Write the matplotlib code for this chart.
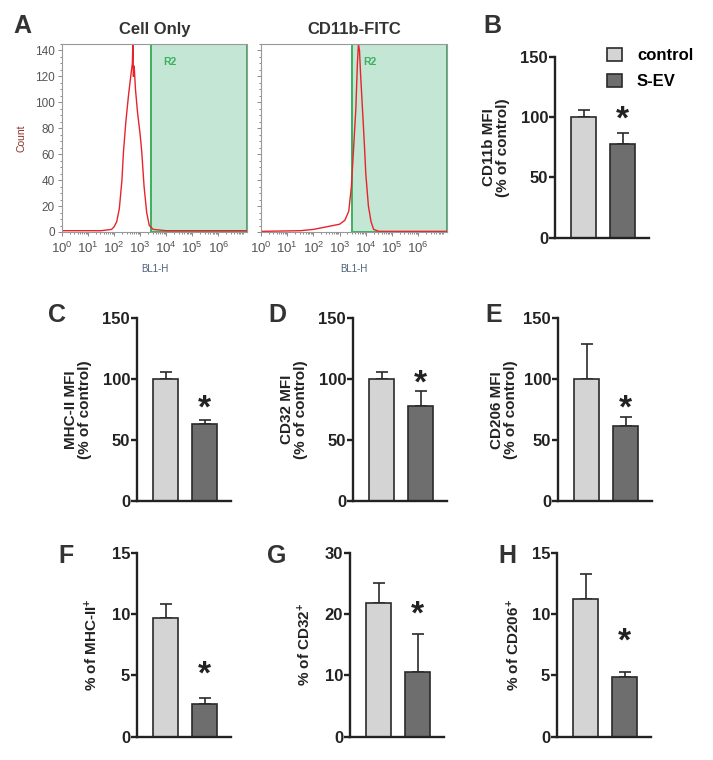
"""
Flow cytometry histograms (CD11b) plus bar panels of surface marker
expression for control vs S-EV treated cells.
"""
import matplotlib
matplotlib.use("Agg")
import matplotlib.pyplot as plt
from matplotlib.ticker import MultipleLocator, LogLocator, NullFormatter

plt.rcParams['font.family'] = ['Liberation Sans', 'DejaVu Sans']
plt.rcParams['mathtext.default'] = 'regular'

W, H = 713, 760

# --- histogram traces (log10 of BL1-H, count) ---
cell_only_log = [0.0, 1.0, 1.5, 1.9, 2.0, 2.1, 2.2, 2.3, 2.36, 2.45, 2.55, 2.65, 2.7, 2.72,
                 2.74, 2.77, 2.82, 2.9, 3.0, 3.06, 3.15, 3.25, 3.35, 3.5, 4.0, 7.1]
cell_only_count = [1, 1, 1, 2, 4, 8, 18, 40, 62, 85, 105, 122, 130, 145,
                   120, 128, 110, 92, 75, 62, 35, 15, 5, 2, 1, 1]
cd11b_log = [0.0, 1.5, 2.0, 2.5, 3.0, 3.2, 3.35, 3.45, 3.55, 3.62, 3.68, 3.72, 3.76,
             3.8, 3.9, 3.95, 4.0, 4.1, 4.2, 4.3, 4.5, 7.1]
cd11b_count = [0.5, 1, 2, 4, 6, 9, 16, 35, 70, 95, 130, 145, 140,
               122, 85, 66, 45, 20, 8, 2, 0.5, 0.5]
gate_log = [3.42, 3.46]
hist_titles = ['Cell Only', 'CD11b-FITC']

# --- bar panels B-H ---
panel_letters = ['B', 'C', 'D', 'E', 'F', 'G', 'H']
ylabels = ['CD11b MFI\n(% of control)', 'MHC-II MFI\n(% of control)',
           'CD32 MFI\n(% of control)', 'CD206 MFI\n(% of control)',
           '% of MHC-II$^{+}$', '% of CD32$^{+}$', '% of CD206$^{+}$']
control_mean = [100, 100, 100, 100, 9.65, 21.75, 11.25]
control_sem = [5.5, 6, 6, 28.5, 1.2, 3.35, 2.05]
sev_mean = [78, 63, 78, 61.5, 2.7, 10.5, 4.9]
sev_sem = [9, 3.5, 12.5, 7.5, 0.45, 6.25, 0.35]
y_max = [150, 150, 150, 150, 15, 30, 15]
y_step = [50, 50, 50, 50, 5, 10, 5]
groups = ['control', 'S-EV']

# layout in pixels: (axis x, top y, bottom y, label offset, star y, letter x, letter y)
layout = [
    (555, 56.7, 237.7, 45, 103, 483, 33),
    (137, 318.3, 501, 45, 81, 48, 322),
    (353, 318.3, 501, 45, 102, 268, 322),
    (558, 318.3, 501, 40, 81, 485, 322),
    (137, 552.7, 736.7, 37, 5.6, 58, 563),
    (350, 552.7, 736.7, 37, 21, 267, 563),
    (557, 552.7, 736.7, 35, 8.3, 498, 563),
]


def px_rect(x0, y0, x1, y1):
    return [x0 / W, 1 - y1 / H, (x1 - x0) / W, (y1 - y0) / H]


fig = plt.figure(figsize=(W / 100, H / 100), dpi=100)

# --- panel A ---
hist_boxes = [(62, 44, 247, 232), (261, 44, 447, 232)]
hist_data = [(cell_only_log, cell_only_count), (cd11b_log, cd11b_count)]
x_hi = 10 ** 7.1
for i, (box, (lg, cnt)) in enumerate(zip(hist_boxes, hist_data)):
    ax = fig.add_axes(px_rect(*box))
    ax.set_xscale('log')
    ax.set_xlim(1, x_hi)
    ax.set_ylim(0, 145)
    g = 10 ** gate_log[i]
    ax.axvspan(g, x_hi, facecolor='#c4e6d4', edgecolor='#3cb05f', lw=1.4, zorder=1)
    ax.text(10 ** (gate_log[i] + 0.46), 131, 'R2', color='#3cb05f', fontsize=7.5,
            fontweight='bold', ha='left', va='center', zorder=3)
    ax.plot([10 ** v for v in lg], cnt, color='#e8232b', lw=1.0, zorder=2)
    ax.set_xticks([10 ** k for k in range(7)])
    ax.set_xticklabels([f'$10^{{{k}}}$' for k in range(7)])
    ax.xaxis.set_minor_locator(LogLocator(base=10, subs=range(2, 10), numticks=20))
    ax.xaxis.set_minor_formatter(NullFormatter())
    ax.set_yticks(range(0, 141, 20))
    ax.yaxis.set_minor_locator(MultipleLocator(5))
    if i > 0:
        ax.set_yticklabels([])
    for sp in ax.spines.values():
        sp.set_color('#999999')
        sp.set_linewidth(0.8)
    ax.tick_params(which='both', colors='#777777', labelcolor='#555555', labelsize=8.5,
                   direction='out', width=0.6, pad=2)
    ax.tick_params(axis='x', labelsize=9.5, pad=3)
    ax.tick_params(which='major', length=3)
    ax.tick_params(which='minor', length=1.5)
    ax.set_title(hist_titles[i], fontsize=12, fontweight='bold', color='#333333', pad=7)
    ax.set_xlabel('BL1-H', fontsize=7, color='#50607a', labelpad=6)
    if i == 0:
        ax.set_ylabel('Count', fontsize=7.5, color='#8a3324', labelpad=6)

fig.text(13 / W, 1 - 33 / H, 'A', fontsize=18, fontweight='bold', color='#333333')

# --- panels B-H ---
bar_w = 0.64
legend_handles = None
for i, letter in enumerate(panel_letters):
    ax_x, top, bot, lab_off, star_y, lx, ly = layout[i]
    ax_w = 94
    ax = fig.add_axes(px_rect(ax_x, top, ax_x + ax_w, bot))
    b1 = ax.bar(0, control_mean[i], width=bar_w, color='#d4d4d4', edgecolor='#2a2a2a',
                lw=1.2, zorder=2, label=groups[0])
    b2 = ax.bar(1, sev_mean[i], width=bar_w, color='#6e6e6e', edgecolor='#2a2a2a',
                lw=1.2, zorder=2, label=groups[1])
    ax.errorbar([0, 1], [control_mean[i], sev_mean[i]],
                yerr=[[0, 0], [control_sem[i], sev_sem[i]]], fmt='none',
                ecolor='#2a2a2a', elinewidth=1.2, capsize=4.5, capthick=1.2, zorder=1)
    # asterisk glyph sits high in its text box, so nudge it down
    ax.annotate('*', (1, star_y), xytext=(0, -5), textcoords='offset points',
                ha='center', va='center', fontsize=24, fontweight='bold', color='#222222')
    ax.set_xlim(-0.73, 1.67)
    ax.set_ylim(0, y_max[i])
    ax.set_yticks(range(0, y_max[i] + 1, y_step[i]))
    ax.set_xticks([])
    for s in ['top', 'right']:
        ax.spines[s].set_visible(False)
    for s in ['left', 'bottom']:
        ax.spines[s].set_linewidth(1.7)
        ax.spines[s].set_color('#222222')
    ax.tick_params(axis='y', length=4, width=1.7, pad=1, labelsize=12, colors='#222222')
    for lab in ax.get_yticklabels():
        lab.set_fontweight('bold')
    ax.set_ylabel(ylabels[i], fontsize=11, fontweight='bold', color='#222222',
                  linespacing=1.0)
    ax.yaxis.set_label_coords(-lab_off / ax_w, 0.5)
    fig.text(lx / W, 1 - ly / H, letter, fontsize=18, fontweight='bold', color='#333333')
    if i == 0:
        legend_handles = [b1, b2]

fig.legend(handles=legend_handles, labels=groups, loc='upper left',
           bbox_to_anchor=(607 / W, 1 - 48 / H), frameon=False,
           prop={'weight': 'bold', 'size': 12}, handlelength=0.9, handleheight=0.8,
           handletextpad=0.9, borderpad=0, borderaxespad=0, labelspacing=0.66)

fig.savefig('out.png', dpi=100)
